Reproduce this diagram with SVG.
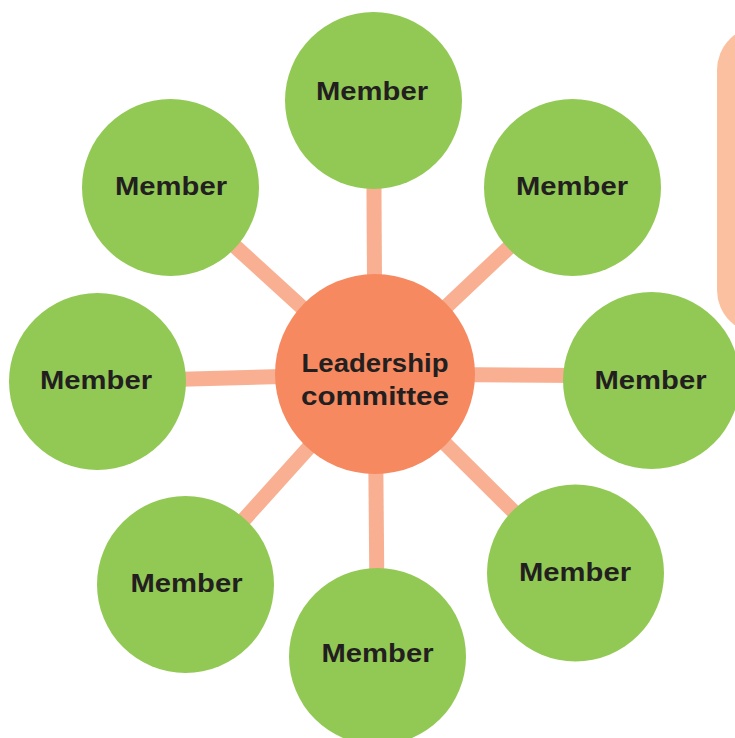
<svg xmlns="http://www.w3.org/2000/svg" width="735" height="738" viewBox="0 0 735 738">
<style>
.member{fill:#92c955}
.center{fill:#f6895f}
.conn{stroke:#f9b092;stroke-width:15;fill:none}
text{font-family:"Liberation Sans",Arial,sans-serif;font-weight:700;fill:#231f20;text-anchor:middle;font-size:26px}
</style>
<rect x="717" y="26" width="120" height="308" rx="44" fill="#fac0a0"/>
<g id="connectors">
<line class="conn" x1="375" y1="374" x2="373.5" y2="100.5"/>
<line class="conn" x1="375" y1="374" x2="170.5" y2="187.5"/>
<line class="conn" x1="375" y1="374" x2="572.5" y2="187.5"/>
<line class="conn" x1="375" y1="374" x2="651.5" y2="376"/>
<line class="conn" x1="375" y1="374" x2="575.5" y2="573"/>
<line class="conn" x1="375" y1="374" x2="377.5" y2="656.5"/>
<line class="conn" x1="375" y1="374" x2="185.5" y2="584.5"/>
<line class="conn" x1="375" y1="374" x2="97.5" y2="381.5"/>
</g>
<g id="center-node"><circle class="center" cx="375" cy="374" r="100"/><text x="375" y="372" textLength="147" lengthAdjust="spacingAndGlyphs">Leadership</text><text x="375" y="405" textLength="148" lengthAdjust="spacingAndGlyphs">committee</text></g>
<g id="member-top"><circle class="member" cx="373.5" cy="100.5" r="88.5"/><text x="372" y="100" textLength="112" lengthAdjust="spacingAndGlyphs">Member</text></g>
<g id="member-top-left"><circle class="member" cx="170.5" cy="187.5" r="88.5"/><text x="171" y="195" textLength="112" lengthAdjust="spacingAndGlyphs">Member</text></g>
<g id="member-top-right"><circle class="member" cx="572.5" cy="187.5" r="88.5"/><text x="572" y="195" textLength="112" lengthAdjust="spacingAndGlyphs">Member</text></g>
<g id="member-right"><circle class="member" cx="651.5" cy="380.5" r="88.5"/><text x="650.5" y="389" textLength="112" lengthAdjust="spacingAndGlyphs">Member</text></g>
<g id="member-bottom-right"><circle class="member" cx="575.5" cy="573" r="88.5"/><text x="575" y="581" textLength="112" lengthAdjust="spacingAndGlyphs">Member</text></g>
<g id="member-bottom"><circle class="member" cx="377.5" cy="656.5" r="88.5"/><text x="377.5" y="661.5" textLength="112" lengthAdjust="spacingAndGlyphs">Member</text></g>
<g id="member-bottom-left"><circle class="member" cx="185.5" cy="584.5" r="88.5"/><text x="186.5" y="591.5" textLength="112" lengthAdjust="spacingAndGlyphs">Member</text></g>
<g id="member-left"><circle class="member" cx="97.5" cy="381.5" r="88.5"/><text x="96" y="389" textLength="112" lengthAdjust="spacingAndGlyphs">Member</text></g>
</svg>
